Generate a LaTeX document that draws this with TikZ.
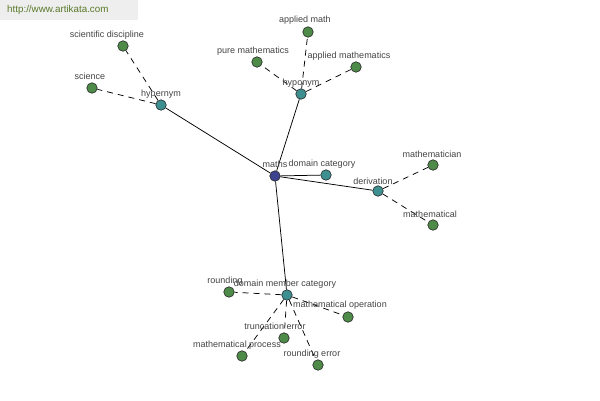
\documentclass[tikz,border=0pt]{standalone}
\usepackage{fontspec}
\setmainfont{Liberation Sans}
\definecolor{wmbg}{HTML}{EEEEEE}
\definecolor{wmtext}{HTML}{5A7A2A}
\definecolor{navy}{HTML}{3C4490}
\definecolor{tealn}{HTML}{3E9090}
\definecolor{greenn}{HTML}{4E8A48}
\definecolor{lbl}{HTML}{444444}
\tikzset{
  dot/.style={circle,draw=black!85,line width=0.6pt,inner sep=0pt,minimum size=10.5pt},
  rootdot/.style={dot,fill=navy},
  catdot/.style={dot,fill=tealn},
  leafdot/.style={dot,fill=greenn},
  lab/.style={text=lbl,font=\fontsize{9}{10}\selectfont,inner sep=0pt},
  solidedge/.style={draw=black,line width=0.75pt},
  dashedge/.style={draw=black,line width=0.75pt,dash pattern=on 6pt off 5pt}
}
\begin{document}
\begin{tikzpicture}[x=1pt,y=-1pt]
\useasboundingbox (0,0) rectangle (600,400);
\fill[white] (0,0) rectangle (600,400);
\fill[wmbg] (0,0) rectangle (138,20);
\node[text=wmtext,font=\fontsize{9.8}{11}\selectfont,anchor=west,inner sep=0pt] (wm) at (7,10) {http://www.artikata.com};

% nodes
\node[rootdot] (maths) at (275,176) {};
\node[catdot] (dc) at (326,175) {};
\node[catdot] (der) at (378,191) {};
\node[leafdot] (mtn) at (433,165) {};
\node[leafdot] (mtl) at (433,225) {};
\node[catdot] (hyper) at (161,105) {};
\node[leafdot] (sd) at (123,46) {};
\node[leafdot] (sci) at (92,88) {};
\node[catdot] (hypo) at (301,94) {};
\node[leafdot] (am) at (308,32) {};
\node[leafdot] (pm) at (257,62) {};
\node[leafdot] (ams) at (356,67) {};
\node[catdot] (dmc) at (287,295) {};
\node[leafdot] (rd) at (229,292) {};
\node[leafdot] (mo) at (348,317) {};
\node[leafdot] (te) at (284,338) {};
\node[leafdot] (mp) at (242,356) {};
\node[leafdot] (re) at (318,365) {};

% edges
\draw[solidedge] (maths) -- (hyper);
\draw[solidedge] (maths) -- (hypo);
\draw[solidedge] (maths) -- (dc);
\draw[solidedge] (maths) -- (der);
\draw[solidedge] (maths) -- (dmc);
\draw[dashedge] (hyper) -- (sd);
\draw[dashedge] (hyper) -- (sci);
\draw[dashedge] (hypo) -- (am);
\draw[dashedge] (hypo) -- (pm);
\draw[dashedge] (hypo) -- (ams);
\draw[dashedge] (der) -- (mtn);
\draw[dashedge] (der) -- (mtl);
\draw[dashedge] (dmc) -- (rd);
\draw[dashedge] (dmc) -- (mo);
\draw[dashedge] (dmc) -- (te);
\draw[dashedge] (dmc) -- (mp);
\draw[dashedge] (dmc) -- (re);

% labels
\node[lab] (lmaths) at (275,164) {maths};
\node[lab] (ldc) at (322,164) {domain category};
\node[lab] (lder) at (373,181) {derivation};
\node[lab] (lmtn) at (432,154) {mathematician};
\node[lab] (lmtl) at (430,214) {mathematical};
\node[lab] (lhyper) at (161,94) {hypernym};
\node[lab] (lsd) at (107,35) {scientific discipline};
\node[lab] (lsci) at (90,76) {science};
\node[lab] (lhypo) at (301,83) {hyponym};
\node[lab] (lam) at (305,20) {applied math};
\node[lab] (lpm) at (253,51) {pure mathematics};
\node[lab] (lams) at (349,56) {applied mathematics};
\node[lab] (ldmc) at (285,284) {domain member category};
\node[lab] (lrd) at (225,281) {rounding};
\node[lab] (lmo) at (340,305) {mathematical operation};
\node[lab] (lte) at (275,326) {truncation error};
\node[lab] (lmp) at (237,345) {mathematical process};
\node[lab] (lre) at (312,354) {rounding error};
\end{tikzpicture}
\end{document}
